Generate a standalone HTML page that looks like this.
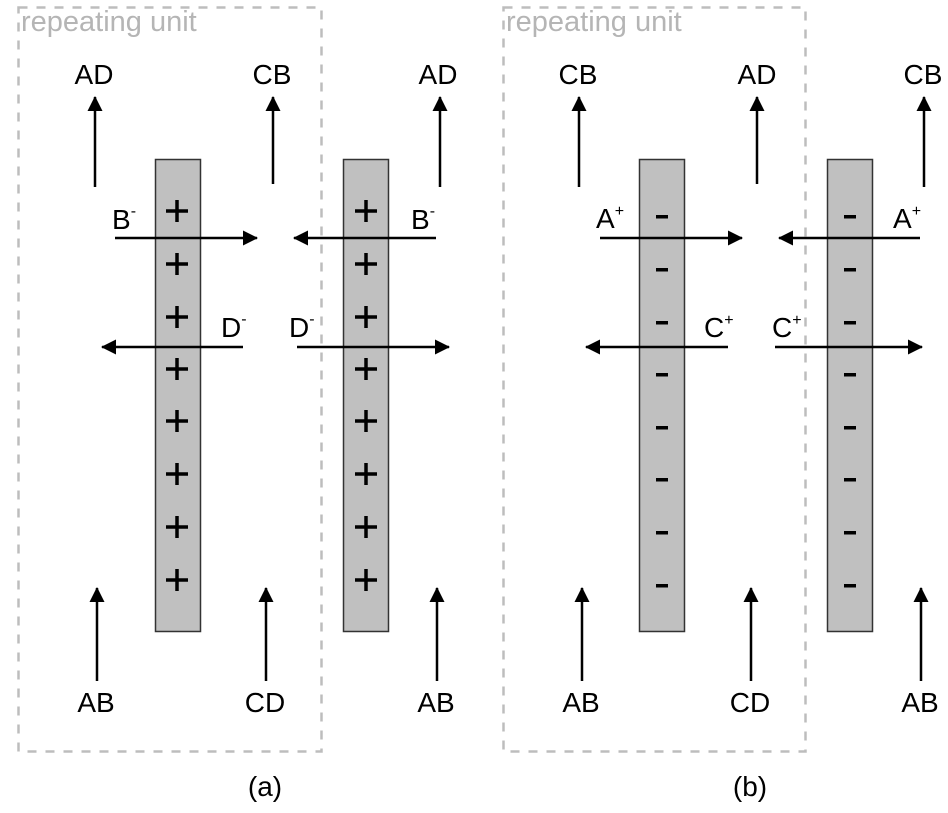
<!DOCTYPE html>
<html><head><meta charset="utf-8"><style>
html,body{margin:0;padding:0;background:#fff;}
svg{display:block;}
text{font-family:"Liberation Sans",Arial,sans-serif;fill:#000;}
.big{font-size:28px;}
.sup{font-size:16px;}
.ru{font-size:29px;fill:#b5b5b5;}
</style></head><body>
<svg width="948" height="813" viewBox="0 0 948 813" xmlns="http://www.w3.org/2000/svg">
<defs>
<marker id="ah" markerWidth="6" markerHeight="6" refX="5.6" refY="3" orient="auto" markerUnits="strokeWidth">
<path d="M0,0 L6,3 L0,6 Z" fill="#000"/>
</marker>
</defs>
<rect x="18.5" y="7.5" width="303" height="744" fill="none" stroke="#bdbdbd" stroke-width="2.5" stroke-dasharray="9,9"/>
<rect x="503.5" y="7.5" width="302" height="744" fill="none" stroke="#bdbdbd" stroke-width="2.5" stroke-dasharray="9,9"/>
<text class="ru" x="21" y="31">repeating unit</text>
<text class="ru" x="506" y="31">repeating unit</text>

<g fill="#c0c0c0" stroke="#333" stroke-width="1.5">
<rect x="155.5" y="159.5" width="45" height="472"/>
<rect x="343.5" y="159.5" width="45" height="472"/>
<rect x="639.5" y="159.5" width="45" height="472"/>
<rect x="827.5" y="159.5" width="45" height="472"/>
</g>

<g stroke="#000" stroke-width="3.5">
<path d="M166,211h22M177,200v22 M166,264h22M177,253v22 M166,317h22M177,306v22 M166,369h22M177,358v22 M166,421h22M177,410v22 M166,474h22M177,463v22 M166,527h22M177,516v22 M166,580h22M177,569v22"/>
<path d="M355,211h22M366,200v22 M355,264h22M366,253v22 M355,317h22M366,306v22 M355,369h22M366,358v22 M355,421h22M366,410v22 M355,474h22M366,463v22 M355,527h22M366,516v22 M355,580h22M366,569v22"/>
</g>
<g fill="#000">
<rect x="656" y="215" width="12" height="3.5"/><rect x="656" y="268" width="12" height="3.5"/><rect x="656" y="321" width="12" height="3.5"/><rect x="656" y="373" width="12" height="3.5"/><rect x="656" y="426" width="12" height="3.5"/><rect x="656" y="478" width="12" height="3.5"/><rect x="656" y="531" width="12" height="3.5"/><rect x="656" y="584" width="12" height="3.5"/>
<rect x="844" y="215" width="12" height="3.5"/><rect x="844" y="268" width="12" height="3.5"/><rect x="844" y="321" width="12" height="3.5"/><rect x="844" y="373" width="12" height="3.5"/><rect x="844" y="426" width="12" height="3.5"/><rect x="844" y="478" width="12" height="3.5"/><rect x="844" y="531" width="12" height="3.5"/><rect x="844" y="584" width="12" height="3.5"/>
</g>

<g stroke="#000" stroke-width="2.5" fill="none" marker-end="url(#ah)">
<line x1="95" y1="187" x2="95" y2="97"/>
<line x1="273" y1="184" x2="273" y2="97"/>
<line x1="440" y1="187" x2="440" y2="97"/>
<line x1="97" y1="681" x2="97" y2="588"/>
<line x1="266" y1="681" x2="266" y2="588"/>
<line x1="437" y1="681" x2="437" y2="588"/>
<line x1="115" y1="238" x2="257" y2="238"/>
<line x1="436" y1="238" x2="294" y2="238"/>
<line x1="243" y1="347" x2="102" y2="347"/>
<line x1="297" y1="347" x2="449" y2="347"/>
<line x1="579" y1="187" x2="579" y2="97"/>
<line x1="757" y1="184" x2="757" y2="97"/>
<line x1="924" y1="187" x2="924" y2="97"/>
<line x1="582" y1="681" x2="582" y2="588"/>
<line x1="751" y1="681" x2="751" y2="588"/>
<line x1="921" y1="681" x2="921" y2="588"/>
<line x1="600" y1="238" x2="742" y2="238"/>
<line x1="920" y1="238" x2="779" y2="238"/>
<line x1="728" y1="347" x2="586" y2="347"/>
<line x1="775" y1="347" x2="922" y2="347"/>
</g>

<g text-anchor="middle">
<text class="big" x="94" y="84">AD</text>
<text class="big" x="272" y="84">CB</text>
<text class="big" x="438" y="84">AD</text>
<text class="big" x="96" y="712">AB</text>
<text class="big" x="265" y="712">CD</text>
<text class="big" x="436" y="712">AB</text>
<text class="big" x="578" y="84">CB</text>
<text class="big" x="757" y="84">AD</text>
<text class="big" x="923" y="84">CB</text>
<text class="big" x="581" y="712">AB</text>
<text class="big" x="750" y="712">CD</text>
<text class="big" x="920" y="712">AB</text>
<text class="big" x="265" y="796">(a)</text>
<text class="big" x="750" y="796">(b)</text>
</g>
<g>
<text class="big" x="112" y="229">B<tspan class="sup" dy="-13">-</tspan></text>
<text class="big" x="411" y="229">B<tspan class="sup" dy="-13">-</tspan></text>
<text class="big" x="221" y="337">D<tspan class="sup" dy="-13">-</tspan></text>
<text class="big" x="289" y="337">D<tspan class="sup" dy="-13">-</tspan></text>
<text class="big" x="596" y="228">A<tspan class="sup" dy="-12">+</tspan></text>
<text class="big" x="893" y="228">A<tspan class="sup" dy="-12">+</tspan></text>
<text class="big" x="704" y="337">C<tspan class="sup" dy="-12">+</tspan></text>
<text class="big" x="772" y="337">C<tspan class="sup" dy="-12">+</tspan></text>
</g>
</svg>
</body></html>
